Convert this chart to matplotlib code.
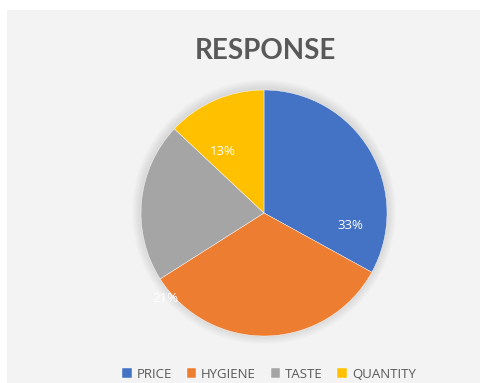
import numpy as np
import matplotlib.pyplot as plt
from matplotlib.patches import Rectangle, Circle

# data
categories = ["PRICE", "HYGIENE", "TASTE", "QUANTITY"]
shares = [33, 33, 21, 13]
# labels as shown in the picture (hygiene label is hidden, taste label sits on the edge)
label_text = ["33%", "", "21%", "13%"]

colors = ["#4472C4", "#ED7D31", "#A5A5A5", "#FFC000"]
# label placement: (angle clockwise from top in degrees, radius fraction)
label_pos = [(98, 0.71), (0, 0), (229, 1.06), (326, 0.60)]

W, H = 487, 383
fig = plt.figure(figsize=(W / 100, H / 100), dpi=100)
ax = fig.add_axes([0, 0, 1, 1])

# chart area background
ax.add_patch(Rectangle((7, 0), 473, H - 10, facecolor="#f3f3f3", edgecolor="none", zorder=0))

cx, cy, r = 264, H - 213, 123

# soft shadow around the pie
for i in range(10):
    ax.add_patch(Circle((cx, cy + 1), r + 9 - i, facecolor="#b0b0b0",
                        edgecolor="none", alpha=0.045, zorder=1))

wedges, _ = ax.pie(shares, colors=colors, startangle=90, counterclock=False,
                   center=(cx, cy), radius=r, frame=True,
                   wedgeprops=dict(linewidth=0.3, edgecolor="white"))
for w in wedges:
    w.set_zorder(2)
ax.set_xlim(0, W)
ax.set_ylim(0, H)
ax.set_aspect("equal")
ax.axis("off")

for txt, (ang, frac) in zip(label_text, label_pos):
    if not txt:
        continue
    a = np.radians(90 - ang)
    ax.text(cx + frac * r * np.cos(a), cy + frac * r * np.sin(a), txt,
            ha="center", va="center", color="white", fontsize=9.5,
            family="Open Sans", zorder=3)

fig.text(265 / W, 1 - 51 / H, "RESPONSE", ha="center", va="center",
         fontsize=20, fontweight="bold", color="#595959", family="Lato")

fig.legend(wedges, categories, loc="center", bbox_to_anchor=(269 / W, 9 / H),
           ncol=4, frameon=False, handlelength=0.7, handleheight=0.7,
           handletextpad=0.4, columnspacing=1.1, labelcolor="#595959",
           prop=dict(family="Open Sans", size=9.5))

fig.savefig("out.png", dpi=100)
